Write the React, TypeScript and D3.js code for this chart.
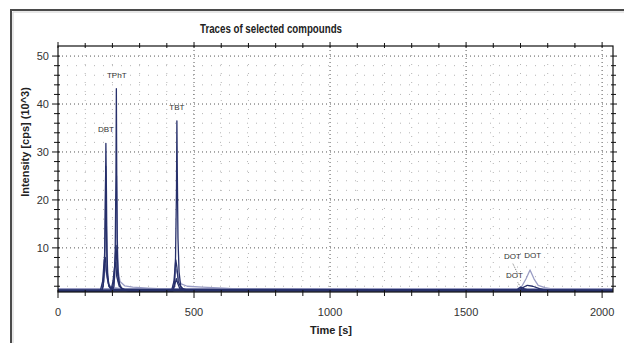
import React from 'react';
import * as d3 from 'd3';

// chromatogram traces, [time s, intensity 10^3 cps]
const dbtA = [[0, 1.1], [160, 1.1], [166, 2], [171, 6], [174, 16], [176, 31.8], [178, 22], [180, 9], [183, 4], [188, 2], [198, 1.3], [2040, 1.1]];
const dbtB = [[0, 1.0], [162, 1.0], [168, 3], [172, 10], [175.5, 27], [178, 14], [181, 5], [187, 2], [198, 1.2], [2040, 1.0]];
const dbtC = [[0, 1.2], [156, 1.2], [164, 3], [170, 7.5], [174, 8], [178, 5], [185, 2.5], [196, 1.4], [2040, 1.2]];
const dbtD = [[0, 1.5], [160, 1.5], [168, 4], [174, 6.5], [179, 4], [187, 2.2], [205, 1.7], [235, 1.5], [2040, 1.5]];
const tphtA = [[0, 1.1], [200, 1.1], [206, 2], [210, 8], [213, 25], [214.5, 43.2], [216, 24], [218.5, 8], [222, 4], [228, 2], [240, 1.3], [2040, 1.1]];
const tphtB = [[0, 1.5], [202, 1.5], [209, 4], [213, 12], [215.5, 25], [218, 12], [222, 5], [228, 3], [245, 2.1], [275, 1.8], [330, 1.6], [370, 1.5], [2040, 1.5]];
const tphtC = [[0, 1.1], [198, 1.1], [205, 3], [210, 8], [213.5, 10.5], [217, 6], [222, 3], [232, 1.6], [250, 1.2], [2040, 1.1]];
const tphtD = [[0, 1.0], [194, 1.0], [202, 3], [208, 6], [212, 7], [216, 4], [225, 2], [240, 1.3], [260, 1.0], [2040, 1.0]];
const tbtA = [[0, 1.1], [422, 1.1], [428, 2.5], [432, 8], [435.5, 22], [437, 36.5], [438.5, 26], [441, 12], [445, 5], [451, 2], [462, 1.3], [2040, 1.1]];
const tbtB = [[0, 1.2], [418, 1.2], [426, 3], [433, 7.5], [437, 6], [442, 3], [453, 1.6], [470, 1.3], [2040, 1.2]];
const tbtC = [[0, 1.5], [420, 1.5], [428, 3], [434, 5.5], [438, 5], [443, 3.5], [453, 2.5], [475, 2], [530, 1.8], [610, 1.6], [640, 1.5], [2040, 1.5]];
const tbtD = [[0, 1.0], [422, 1.0], [429, 2.2], [435, 3.6], [440, 2.6], [448, 1.5], [465, 1.1], [2040, 1.0]];
const dotA = [[0, 1.5], [1690, 1.5], [1705, 2], [1720, 3.5], [1735, 5.4], [1750, 3.5], [1765, 2.2], [1790, 1.7], [1810, 1.5], [2040, 1.5]];
const dotB = [[0, 1.1], [1690, 1.1], [1705, 1.6], [1725, 2.2], [1745, 2], [1770, 1.5], [1800, 1.1], [2040, 1.1]];
const dotC = [[0, 1.2], [1685, 1.2], [1695, 1.6], [1702, 1.8], [1712, 1.5], [1730, 1.2], [2040, 1.2]];

const darkTraces = [dbtA, dbtB, dbtC, tphtA, tphtC, tphtD, tbtA, tbtB, tbtD, dotB, dotC];
const lightTraces = [dbtD, tphtB, tbtC, dotA];

const peakLabels = [
  { text: 'DBT', t: 176, v: 34.2 },
  { text: 'TPhT', t: 216, v: 45.5 },
  { text: 'TBT', t: 437, v: 38.8 },
  { text: 'DOT', t: 1670, v: 7.6 },
  { text: 'DOT', t: 1745, v: 7.8 },
  { text: 'DOT', t: 1678, v: 3.8 },
];

const xMajor = [0, 500, 1000, 1500, 2000];
const yMajor = [10, 20, 30, 40, 50];

const W = 624;
const H = 343;
const L = 58, R = 613, T = 46, B = 292;
const NAVY = '#27306b';
const LIGHT = '#9a9dc4';

export default function App() {
  const x = d3.scaleLinear().domain([0, 2040]).range([L, R]);
  const y = d3.scaleLinear().domain([0.8, 52.1]).range([B, T]);
  const line = d3.line<number[]>().x(d => x(d[0])).y(d => y(d[1]));
  const xMinor = d3.range(0, 2001, 100);
  const yMinor = d3.range(2, 52, 2);
  const font = 'Liberation Sans, Arial, sans-serif';

  return (
    <svg width={W} height={H} style={{ position: 'absolute', left: 0, top: 0, background: '#fff' }} fontFamily={font}>
      <rect width={W} height={H} fill="#fff" />
      {/* outer frame */}
      <path d={`M11,${H} L11,10 L${W},10`} fill="none" stroke="#4a4a4a" strokeWidth={2} />
      <path d={`M13,${H} L13,12 L${W},12`} fill="none" stroke="#cfcfcf" strokeWidth={1} />

      <text x={271} y={33} textAnchor="middle" fontSize={12} fontWeight="bold" fill="#222" textLength={142} lengthAdjust="spacingAndGlyphs">
        Traces of selected compounds
      </text>

      {/* minor grid */}
      {yMinor.filter(v => v % 10 !== 0).map(v => (
        <line key={'hy' + v} x1={L} x2={R} y1={y(v)} y2={y(v)} stroke="#b5b5b5" strokeWidth={1} strokeDasharray="1,8" />
      ))}
      {xMinor.filter(v => v % 500 !== 0).map(v => (
        <line key={'hx' + v} x1={x(v)} x2={x(v)} y1={T} y2={B} stroke="#b5b5b5" strokeWidth={1} strokeDasharray="1,8" />
      ))}
      {/* major grid */}
      {yMajor.map(v => (
        <line key={'gy' + v} x1={L} x2={R} y1={y(v)} y2={y(v)} stroke="#555" strokeWidth={1} strokeDasharray="1,3" />
      ))}
      {xMajor.slice(1).map(v => (
        <line key={'gx' + v} x1={x(v)} x2={x(v)} y1={T} y2={B} stroke="#555" strokeWidth={1} strokeDasharray="1,3" />
      ))}

      {/* traces */}
      <g fill="none" strokeLinejoin="round">
        {lightTraces.map((d, i) => (
          <path key={'l' + i} d={line(d) || ''} stroke={LIGHT} strokeWidth={1.3} />
        ))}
        {darkTraces.map((d, i) => (
          <path key={'d' + i} d={line(d) || ''} stroke={NAVY} strokeWidth={1.3} />
        ))}
      </g>

      {/* peak labels */}
      {peakLabels.map((p, i) => (
        <text key={'p' + i} x={x(p.t)} y={y(p.v)} textAnchor="middle" fontSize={8} fill="#333">
          {p.text}
        </text>
      ))}
      <line x1={x(1672)} y1={y(6.7)} x2={x(1690)} y2={y(4.6)} stroke="#555" strokeWidth={0.8} strokeDasharray="1,1" />
      <line x1={x(1690)} y1={y(2.8)} x2={x(1698)} y2={y(2.0)} stroke="#555" strokeWidth={0.8} strokeDasharray="1,1" />

      {/* plot frame */}
      <rect x={L} y={T} width={R - L} height={B - T} fill="none" stroke="#111" strokeWidth={1.2} />

      {/* x ticks bottom and top */}
      {xMinor.map(v => {
        const major = v % 500 === 0;
        return (
          <g key={'tx' + v} stroke="#111" strokeWidth={1}>
            <line x1={x(v)} x2={x(v)} y1={B - 2} y2={B + (major ? 6 : 4)} />
            <line x1={x(v)} x2={x(v)} y1={T - (major ? 4 : 3)} y2={T + 2} />
          </g>
        );
      })}
      {/* y ticks left and right */}
      {yMinor.map(v => {
        const major = v % 10 === 0;
        return (
          <g key={'ty' + v} stroke="#111" strokeWidth={1}>
            <line x1={L - (major ? 6 : 4)} x2={L + 2} y1={y(v)} y2={y(v)} />
            <line x1={R - 2} x2={R + (major ? 4 : 3)} y1={y(v)} y2={y(v)} />
          </g>
        );
      })}

      {/* tick labels */}
      {yMajor.map(v => (
        <text key={'ly' + v} x={49} y={y(v)} dy="0.35em" textAnchor="end" fontSize={11} fill="#333">
          {v}
        </text>
      ))}
      {xMajor.map(v => (
        <text key={'lx' + v} x={x(v)} y={316} textAnchor="middle" fontSize={11} fill="#333">
          {v}
        </text>
      ))}

      <text x={331} y={334} textAnchor="middle" fontSize={11} fontWeight="bold" fill="#222">Time [s]</text>
      <text transform="translate(29,142) rotate(-90)" textAnchor="middle" fontSize={11} fontWeight="bold" fill="#222">
        Intensity [cps] (10^3)
      </text>
    </svg>
  );
}
